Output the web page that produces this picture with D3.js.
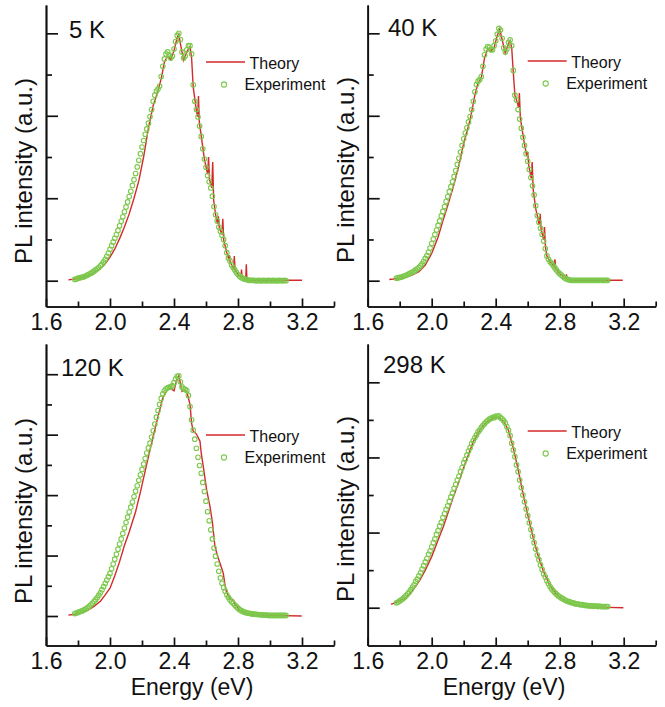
<!DOCTYPE html>
<html>
<head>
<meta charset="utf-8">
<script src="https://cdn.jsdelivr.net/npm/d3@7"></script>
<style>
  body { margin: 0; background: #fff; }
  svg { display: block; font-family: "Liberation Sans", Arial, Helvetica, sans-serif; }
</style>
</head>
<body>
<div id="chart"></div>
<script>
// ---- data (PL intensity, arbitrary units) ----
var xMajorTicks = [1.6, 2.0, 2.4, 2.8, 3.2];
var xMinorTicks = [1.8, 2.2, 2.6, 3.0, 3.4];
var panelNames = ["5 K", "40 K", "120 K", "298 K"];
var legendNames = ["Theory", "Experiment"];

// experiment: one value every 0.01 eV from 1.78 to 3.10 eV
var expStart = 1.78, expStep = 0.01;

var exp5K = [
  0.03,0.04,0.06,0.07,0.08,0.09,0.10,0.12,0.14,0.16,
  0.18,0.20,0.23,0.26,0.29,0.32,0.36,0.40,0.46,0.52,
  0.59,0.67,0.76,0.85,0.94,1.03,1.12,1.22,1.33,1.44,
  1.55,1.67,1.79,1.91,2.04,2.17,2.31,2.45,2.60,2.76,
  2.92,3.08,3.24,3.40,3.55,3.68,3.82,3.98,4.15,4.35,
  4.50,4.60,4.65,4.72,4.95,5.20,5.38,5.50,5.55,5.48,
  5.40,5.45,5.62,5.80,5.95,6.00,5.85,5.55,5.40,5.45,
  5.60,5.70,5.70,5.50,4.75,4.35,4.15,3.97,3.75,3.50,
  3.20,2.95,2.75,2.55,2.40,2.25,2.05,1.80,1.60,1.45,
  1.30,1.20,1.10,1.00,0.85,0.68,0.55,0.48,0.38,0.32,
  0.26,0.20,0.15,0.11,0.08,0.06,0.04,0.03,0.02,0.01,
  0.01,0.01,0.01,0.00,0.00,0.01,0.00,0.00,0.01,0.00,
  0.00,0.01,0.00,0.00,0.01,0.00,0.00,0.00,0.01,0.00,
  0.00,0.01,0.00
];
var exp40K = [
  0.06,0.07,0.08,0.09,0.10,0.12,0.13,0.15,0.17,0.19,
  0.21,0.23,0.26,0.29,0.32,0.36,0.41,0.47,0.54,0.61,
  0.69,0.79,0.90,1.01,1.12,1.23,1.34,1.45,1.57,1.68,
  1.80,1.92,2.04,2.16,2.28,2.40,2.53,2.67,2.82,2.97,
  3.12,3.28,3.44,3.58,3.71,3.85,3.98,4.15,4.35,4.58,
  4.76,4.84,4.88,4.95,5.20,5.48,5.62,5.68,5.66,5.60,
  5.60,5.70,5.82,5.98,6.12,6.08,5.88,5.65,5.55,5.62,
  5.78,5.84,5.70,5.10,4.50,4.38,4.15,3.92,3.70,3.48,
  3.28,3.08,2.90,2.70,2.50,2.30,2.08,1.82,1.58,1.42,
  1.27,1.12,0.96,0.78,0.60,0.52,0.46,0.42,0.36,0.31,
  0.26,0.21,0.17,0.14,0.10,0.07,0.05,0.03,0.02,0.01,
  0.01,0.01,0.01,0.01,0.01,0.01,0.01,0.01,0.01,0.01,
  0.01,0.01,0.01,0.01,0.01,0.01,0.01,0.01,0.01,0.01,
  0.01,0.01,0.01
];
var exp120K = [
  0.08,0.10,0.12,0.14,0.16,0.18,0.21,0.24,0.28,0.32,
  0.37,0.42,0.48,0.54,0.61,0.69,0.77,0.87,0.97,1.08,
  1.19,1.30,1.41,1.56,1.72,1.88,2.04,2.21,2.38,2.55,
  2.73,2.91,3.09,3.27,3.44,3.60,3.77,3.95,4.13,4.31,
  4.49,4.67,4.85,5.03,5.21,5.39,5.56,5.72,5.92,6.13,
  6.35,6.58,6.80,7.00,7.20,7.35,7.45,7.52,7.55,7.57,
  7.58,7.62,7.72,7.85,7.93,7.95,7.75,7.58,7.52,7.50,
  7.46,7.30,6.93,6.49,6.15,5.85,5.55,5.25,4.98,4.72,
  4.42,4.12,3.80,3.45,3.15,2.85,2.55,2.25,1.98,1.72,
  1.48,1.26,1.08,0.94,0.82,0.70,0.62,0.54,0.47,0.42,
  0.36,0.31,0.26,0.21,0.18,0.15,0.13,0.11,0.10,0.09,
  0.08,0.07,0.06,0.06,0.05,0.05,0.04,0.04,0.03,0.03,
  0.03,0.02,0.02,0.02,0.02,0.02,0.02,0.02,0.02,0.02,
  0.02,0.02,0.02
];
var exp298K = [
  0.13,0.15,0.18,0.21,0.24,0.28,0.32,0.37,0.42,0.48,
  0.55,0.61,0.70,0.76,0.85,0.93,1.03,1.12,1.22,1.31,
  1.42,1.51,1.62,1.73,1.83,1.95,2.05,2.17,2.27,2.40,
  2.50,2.62,2.71,2.83,2.95,3.05,3.18,3.28,3.40,3.50,
  3.62,3.73,3.86,3.95,4.06,4.17,4.26,4.37,4.45,4.53,
  4.60,4.68,4.73,4.80,4.85,4.90,4.95,4.98,5.02,5.04,
  5.07,5.06,5.10,5.09,5.11,5.06,5.03,4.98,4.92,4.82,
  4.72,4.58,4.38,4.20,4.02,3.80,3.62,3.40,3.20,3.00,
  2.82,2.63,2.45,2.26,2.08,1.90,1.73,1.56,1.40,1.28,
  1.14,1.02,0.90,0.82,0.72,0.64,0.56,0.50,0.45,0.40,
  0.36,0.32,0.29,0.26,0.24,0.21,0.19,0.17,0.16,0.14,
  0.13,0.12,0.10,0.10,0.09,0.08,0.08,0.07,0.06,0.06,
  0.05,0.05,0.05,0.04,0.04,0.04,0.03,0.04,0.03,0.03,
  0.03,0.03,0.03
];

// theory: [energy (eV), intensity]
var theory5K = [
  [1.74,0.02],[1.78,0.04],[1.82,0.07],[1.86,0.12],[1.90,0.19],[1.94,0.30],[1.97,0.41],[2.00,0.57],
  [2.03,0.77],[2.06,1.02],[2.09,1.30],[2.12,1.62],[2.15,2.00],[2.18,2.42],[2.21,3.00],[2.24,3.70],
  [2.27,4.25],[2.30,4.60],[2.32,4.90],[2.34,5.30],[2.36,5.45],[2.38,5.36],[2.40,5.58],[2.42,5.90],
  [2.43,5.98],[2.44,5.75],[2.46,5.35],[2.48,5.55],[2.50,5.68],[2.51,5.40],[2.52,4.70],[2.54,4.12],
  [2.548,3.98],[2.553,4.48],[2.558,3.85],[2.57,3.52],[2.59,2.95],[2.61,2.58],[2.616,3.00],[2.622,2.45],
  [2.636,2.25],[2.642,2.88],[2.648,1.95],[2.66,1.60],[2.672,1.38],[2.677,1.56],[2.683,1.28],[2.70,1.12],
  [2.705,1.50],[2.711,0.98],[2.73,0.68],[2.742,0.52],[2.746,0.62],[2.75,0.46],[2.772,0.30],[2.777,0.60],
  [2.782,0.25],[2.81,0.11],[2.818,0.10],[2.822,0.27],[2.826,0.07],[2.848,0.03],[2.852,0.40],[2.856,0.02],
  [2.90,0.01],[3.00,0.01],[3.20,0.01]
];
var theory40K = [
  [1.735,0.03],[1.76,0.04],[1.80,0.06],[1.84,0.09],[1.88,0.14],[1.92,0.22],[1.96,0.38],[2.00,0.66],
  [2.04,1.06],[2.07,1.45],[2.10,1.82],[2.135,2.28],[2.17,2.80],[2.20,3.33],[2.24,3.90],[2.27,4.50],
  [2.29,4.80],[2.31,4.92],[2.33,5.40],[2.35,5.62],[2.37,5.57],[2.39,5.65],[2.41,5.95],[2.425,6.10],
  [2.44,5.85],[2.46,5.52],[2.48,5.75],[2.49,5.82],[2.50,5.65],[2.51,5.05],[2.52,4.50],[2.535,4.32],
  [2.543,4.20],[2.548,4.55],[2.554,3.95],[2.575,3.42],[2.594,3.02],[2.600,3.12],[2.606,2.80],[2.622,2.48],
  [2.628,2.88],[2.634,2.22],[2.65,1.75],[2.66,1.58],[2.672,1.35],[2.678,1.62],[2.684,1.24],[2.70,1.00],
  [2.705,1.30],[2.711,0.82],[2.72,0.60],[2.74,0.46],[2.764,0.34],[2.77,0.52],[2.776,0.29],[2.80,0.17],
  [2.836,0.06],[2.842,0.15],[2.848,0.04],[2.87,0.01],[3.00,0.01],[3.194,0.01]
];
var theory120K = [
  [1.74,0.03],[1.78,0.06],[1.82,0.11],[1.86,0.19],[1.90,0.32],[1.94,0.49],[1.97,0.70],[2.00,0.92],
  [2.03,1.33],[2.06,1.80],[2.09,2.33],[2.12,2.78],[2.16,3.45],[2.19,4.10],[2.22,4.80],[2.25,5.50],
  [2.29,6.38],[2.33,7.22],[2.36,7.50],[2.38,7.52],[2.40,7.45],[2.415,7.78],[2.43,7.95],[2.44,7.70],
  [2.45,7.43],[2.465,7.48],[2.48,7.42],[2.50,7.00],[2.51,6.38],[2.52,6.12],[2.54,6.02],[2.5625,5.78],
  [2.57,5.40],[2.583,4.94],[2.604,4.17],[2.625,3.62],[2.64,3.10],[2.656,2.30],[2.67,2.02],[2.688,1.74],
  [2.70,1.55],[2.708,1.41],[2.72,0.98],[2.73,0.76],[2.75,0.58],[2.765,0.52],[2.772,0.53],[2.78,0.40],
  [2.81,0.19],[2.85,0.08],[2.90,0.04],[3.00,0.02],[3.198,0.00]
];
var theory298K = [
  [1.746,0.09],[1.78,0.15],[1.844,0.29],[1.88,0.45],[1.927,0.74],[1.96,1.00],[2.00,1.36],[2.04,1.80],
  [2.073,2.16],[2.10,2.50],[2.135,2.95],[2.17,3.35],[2.198,3.71],[2.23,4.08],[2.26,4.42],[2.30,4.72],
  [2.34,4.93],[2.38,5.05],[2.40,5.07],[2.42,5.06],[2.45,4.96],[2.48,4.72],[2.51,4.25],[2.54,3.68],
  [2.57,3.05],[2.60,2.48],[2.63,1.94],[2.66,1.45],[2.70,0.95],[2.74,0.58],[2.78,0.36],[2.82,0.22],
  [2.86,0.12],[2.90,0.07],[2.95,0.04],[3.00,0.02],[3.10,0.01],[3.198,0.00]
];

// ---- layout ----
var width = 665, height = 707;
var plotW = 288;
var theoryColor = "#d42a2c", expColor = "#7cc94c", axisColor = "#111";

var panels = [
  {name: panelNames[0], exp: exp5K, theory: theory5K, left: 46, top: 5, bottom: 306.5,
   yDomain: [-0.626, 6.687], yMax: 6, labelX: 69, labelY: 38, legendY: 62, ylabelY: 171, xlabel: false},
  {name: panelNames[1], exp: exp40K, theory: theory40K, left: 367.7, top: 5, bottom: 306.5,
   yDomain: [-0.626, 6.687], yMax: 6, labelX: 388, labelY: 36, legendY: 61, ylabelY: 170, xlabel: false},
  {name: panelNames[2], exp: exp120K, theory: theory120K, left: 46, top: 344, bottom: 645.5,
   yDomain: [-0.976, 9.0], yMax: 8, labelX: 61, labelY: 376, legendY: 435, ylabelY: 511, xlabel: true, xlabelX: 192},
  {name: panelNames[3], exp: exp298K, theory: theory298K, left: 367.7, top: 344, bottom: 645.5,
   yDomain: [-1.006, 7.02], yMax: 6, labelX: 383, labelY: 373, legendY: 431, ylabelY: 509, xlabel: true, xlabelX: 504}
];

var svg = d3.select("#chart")
  .append("svg")
    .attr("width", width)
    .attr("height", height);

svg.append("rect").attr("width", width).attr("height", height).attr("fill", "#fff");

panels.forEach(function(p) {
  var g = svg.append("g");

  var x = d3.scaleLinear().domain([1.6, 3.4]).range([p.left, p.left + plotW]);
  var y = d3.scaleLinear().domain(p.yDomain).range([p.bottom, p.top]);

  // x axis, major then minor ticks (pointing inwards)
  g.append("g")
    .attr("class", "axis")
    .attr("transform", "translate(0," + p.bottom + ")")
    .call(d3.axisBottom(x).tickValues(xMajorTicks).tickSize(-8).tickSizeOuter(0)
      .tickPadding(7.5).tickFormat(d3.format(".1f")));
  g.append("g")
    .attr("class", "axis")
    .attr("transform", "translate(0," + p.bottom + ")")
    .call(d3.axisBottom(x).tickValues(xMinorTicks).tickSize(-5).tickSizeOuter(0).tickFormat(""));

  // y axis, no labels
  var yMajor = d3.range(0, p.yMax + 1, 2);
  var yMinor = d3.range(1, p.yMax, 2);
  g.append("g")
    .attr("class", "axis")
    .attr("transform", "translate(" + p.left + ",0)")
    .call(d3.axisLeft(y).tickValues(yMajor).tickSize(-12).tickSizeOuter(0).tickFormat(""));
  g.append("g")
    .attr("class", "axis")
    .attr("transform", "translate(" + p.left + ",0)")
    .call(d3.axisLeft(y).tickValues(yMinor).tickSize(-6).tickSizeOuter(0).tickFormat(""));

  g.selectAll(".axis path, .axis line")
    .attr("stroke", axisColor)
    .attr("stroke-width", 1.7);
  g.selectAll(".axis text")
    .attr("font-size", 23)
    .attr("fill", axisColor)
    .attr("font-family", "Liberation Sans, Arial, sans-serif");

  // theory line
  var line = d3.line()
    .x(function(d) { return x(d[0]); })
    .y(function(d) { return y(d[1]); });
  g.append("path")
    .datum(p.theory)
    .attr("fill", "none")
    .attr("stroke", theoryColor)
    .attr("stroke-width", 1.4)
    .attr("d", line);

  // experiment points
  g.selectAll("circle.exp")
    .data(p.exp)
    .enter().append("circle")
      .attr("class", "exp")
      .attr("cx", function(d, i) { return x(expStart + i * expStep); })
      .attr("cy", function(d) { return y(d); })
      .attr("r", 2.3)
      .attr("fill", "none")
      .attr("stroke", expColor)
      .attr("stroke-width", 1.1);

  // temperature label
  g.append("text")
    .attr("x", p.labelX)
    .attr("y", p.labelY)
    .attr("font-size", 24)
    .attr("fill", axisColor)
    .text(p.name);

  // legend
  var lx = p.left;
  g.append("line")
    .attr("x1", lx + 160).attr("x2", lx + 199)
    .attr("y1", p.legendY).attr("y2", p.legendY)
    .attr("stroke", theoryColor).attr("stroke-width", 1.4);
  g.append("text")
    .attr("x", lx + 203.5).attr("y", p.legendY + 7)
    .attr("font-size", 16).attr("fill", axisColor)
    .text(legendNames[0]);
  g.append("circle")
    .attr("cx", lx + 178).attr("cy", p.legendY + 22.5).attr("r", 2.6)
    .attr("fill", "none").attr("stroke", expColor).attr("stroke-width", 1.1);
  g.append("text")
    .attr("x", lx + 198.5).attr("y", p.legendY + 27.5)
    .attr("font-size", 16).attr("fill", axisColor)
    .text(legendNames[1]);

  // axis titles
  g.append("text")
    .attr("transform", "translate(" + (p.left - 14) + "," + p.ylabelY + ") rotate(-90)")
    .attr("text-anchor", "middle")
    .attr("font-size", 24)
    .attr("fill", axisColor)
    .text("PL intensity (a.u.)");

  if (p.xlabel) {
    g.append("text")
      .attr("x", p.xlabelX)
      .attr("y", 695)
      .attr("text-anchor", "middle")
      .attr("font-size", 23)
      .attr("fill", axisColor)
      .text("Energy (eV)");
  }
});
</script>
</body>
</html>
